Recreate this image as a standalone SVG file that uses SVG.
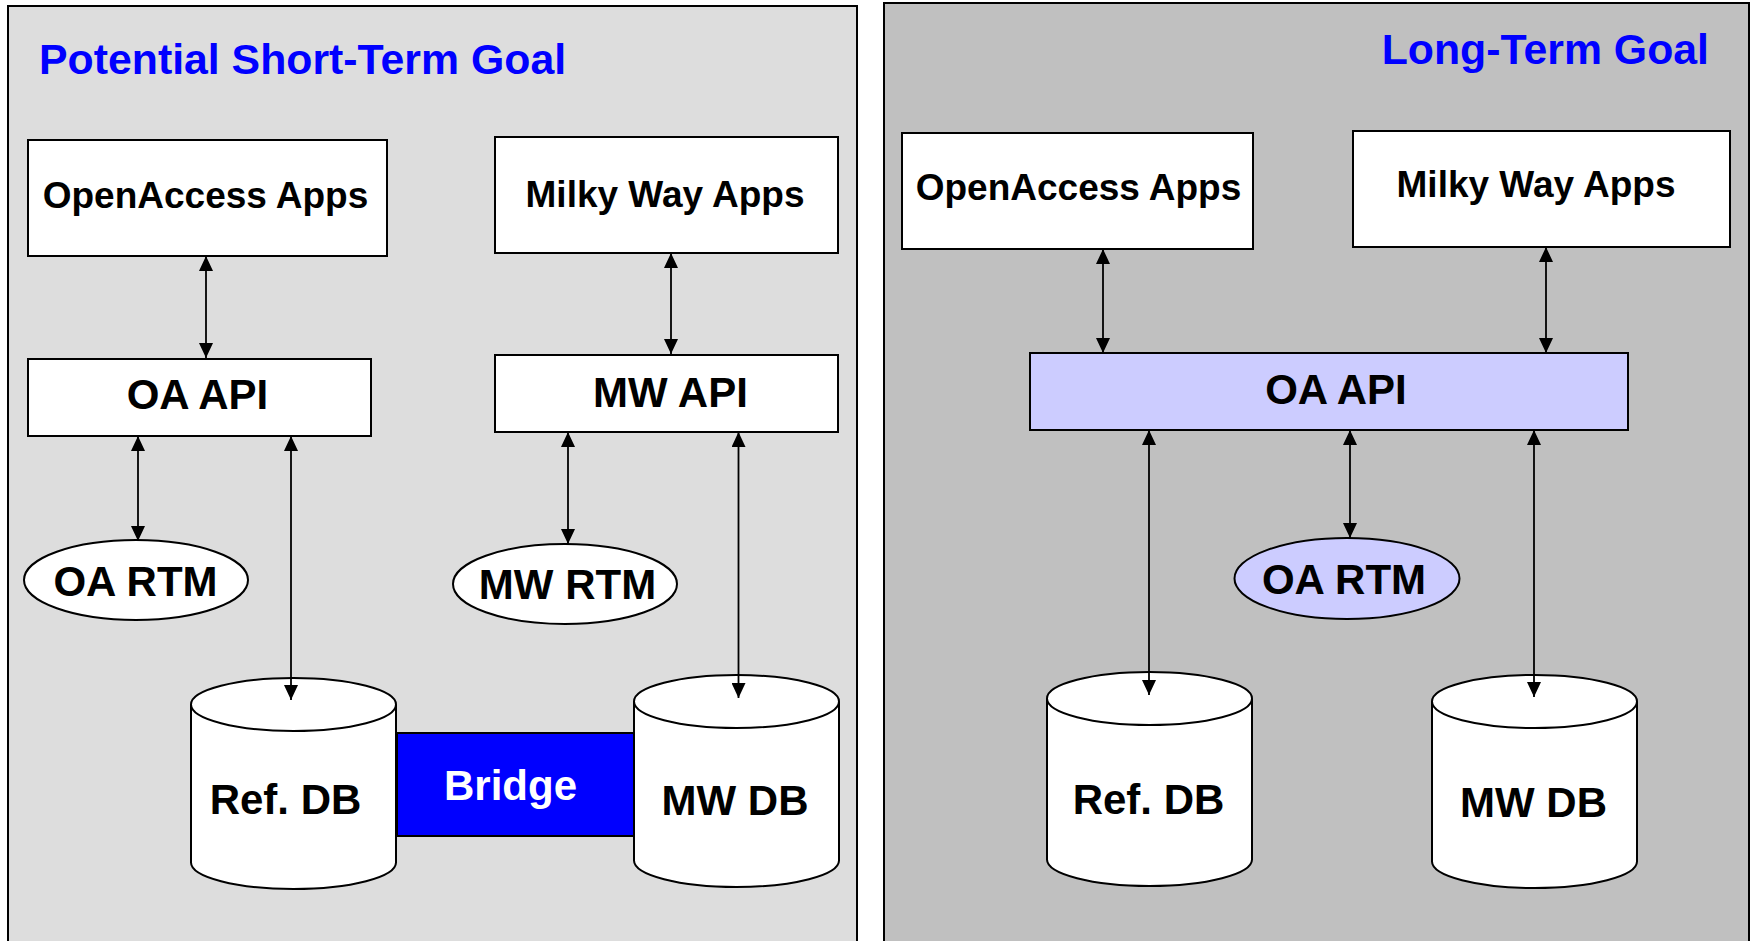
<svg xmlns="http://www.w3.org/2000/svg" width="1753" height="941" viewBox="0 0 1753 941">
<style>
.box{fill:#FFFFFF;stroke:#000000;stroke-width:2}
.lav{fill:#CCCCFF;stroke:#000000;stroke-width:2}
.lbl{font-family:"Liberation Sans",Arial,sans-serif;font-weight:bold;fill:#000000;text-anchor:middle}
.s37{font-size:37px}
.s42{font-size:42px}
.title{font-family:"Liberation Sans",Arial,sans-serif;font-weight:bold;font-size:42.8px;fill:#0000FF}
.conn line{stroke:#000000;stroke-width:1.8;marker-start:url(#ah);marker-end:url(#ah)}
</style>
<defs>
<marker id="ah" markerUnits="userSpaceOnUse" markerWidth="15" markerHeight="14" refX="15" refY="7" orient="auto-start-reverse">
<path d="M0,0 L15,7 L0,14 z" fill="#000000"/>
</marker>
</defs>

<g id="panel-short">
<rect x="8" y="6" width="849" height="945" fill="#DDDDDD" stroke="#000000" stroke-width="2"/>
<text class="title" x="39" y="74">Potential Short-Term Goal</text>
</g>
<g id="panel-long">
<rect x="884" y="3" width="865" height="950" fill="#C0C0C0" stroke="#000000" stroke-width="2"/>
<text class="title" x="1709" y="64" text-anchor="end">Long-Term Goal</text>
</g>

<g id="s-oa-apps">
<rect class="box" x="28" y="140" width="359" height="116"/>
<text class="lbl s37" x="205.5" y="208">OpenAccess Apps</text>
</g>
<g id="s-mw-apps">
<rect class="box" x="495" y="137" width="343" height="116"/>
<text class="lbl s37" x="665" y="207">Milky Way Apps</text>
</g>
<g id="s-oa-api">
<rect class="box" x="28" y="359" width="343" height="77"/>
<text class="lbl s42" x="197.5" y="409">OA API</text>
</g>
<g id="s-mw-api">
<rect class="box" x="495" y="355" width="343" height="77"/>
<text class="lbl s42" x="670.5" y="407">MW API</text>
</g>
<g id="s-oa-rtm">
<ellipse class="box" cx="136" cy="580" rx="112" ry="40"/>
<text class="lbl s42" x="135.5" y="596">OA RTM</text>
</g>
<g id="s-mw-rtm">
<ellipse class="box" cx="565" cy="584" rx="112" ry="40"/>
<text class="lbl s42" x="567.5" y="599">MW RTM</text>
</g>
<g id="s-ref-db">
<path class="box" d="M191,704.5 V862.5 A102.5,26.5 0 0 0 396,862.5 V704.5"/>
<ellipse class="box" cx="293.5" cy="704.5" rx="102.5" ry="26.5"/>
<text class="lbl s42" x="285.5" y="814">Ref. DB</text>
</g>
<g id="s-mw-db">
<path class="box" d="M634,701.5 V860.5 A102.5,26.5 0 0 0 839,860.5 V701.5"/>
<ellipse class="box" cx="736.5" cy="701.5" rx="102.5" ry="26.5"/>
<text class="lbl s42" x="735" y="815">MW DB</text>
</g>
<g id="s-bridge">
<rect x="397" y="733" width="237" height="103" fill="#0000FF" stroke="#000000" stroke-width="2"/>
<text class="lbl s42" x="510.5" y="800" style="fill:#FFFFFF">Bridge</text>
</g>

<g id="l-oa-apps">
<rect class="box" x="902" y="133" width="351" height="116"/>
<text class="lbl s37" x="1078.5" y="200">OpenAccess Apps</text>
</g>
<g id="l-mw-apps">
<rect class="box" x="1353" y="131" width="377" height="116"/>
<text class="lbl s37" x="1536" y="197">Milky Way Apps</text>
</g>
<g id="l-oa-api">
<rect class="lav" x="1030" y="353" width="598" height="77"/>
<text class="lbl s42" x="1336" y="404">OA API</text>
</g>
<g id="l-oa-rtm">
<ellipse class="lav" cx="1347" cy="578.5" rx="112.5" ry="40.5"/>
<text class="lbl s42" x="1344" y="594">OA RTM</text>
</g>
<g id="l-ref-db">
<path class="box" d="M1047,698.5 V859.5 A102.5,26.5 0 0 0 1252,859.5 V698.5"/>
<ellipse class="box" cx="1149.5" cy="698.5" rx="102.5" ry="26.5"/>
<text class="lbl s42" x="1148.5" y="814">Ref. DB</text>
</g>
<g id="l-mw-db">
<path class="box" d="M1432,701.5 V861.5 A102.5,26.5 0 0 0 1637,861.5 V701.5"/>
<ellipse class="box" cx="1534.5" cy="701.5" rx="102.5" ry="26.5"/>
<text class="lbl s42" x="1533.5" y="817">MW DB</text>
</g>

<g id="connectors" class="conn">
<line x1="206" y1="256" x2="206" y2="358"/>
<line x1="671" y1="253" x2="671" y2="354"/>
<line x1="138" y1="436" x2="138" y2="541"/>
<line x1="291" y1="436" x2="291" y2="700"/>
<line x1="568" y1="432" x2="568" y2="544"/>
<line x1="738.5" y1="432" x2="738.5" y2="698"/>
<line x1="1103" y1="249" x2="1103" y2="353"/>
<line x1="1546" y1="247" x2="1546" y2="353"/>
<line x1="1149" y1="430" x2="1149" y2="695"/>
<line x1="1350" y1="430" x2="1350" y2="538"/>
<line x1="1534" y1="430" x2="1534" y2="697"/>
</g>
</svg>
